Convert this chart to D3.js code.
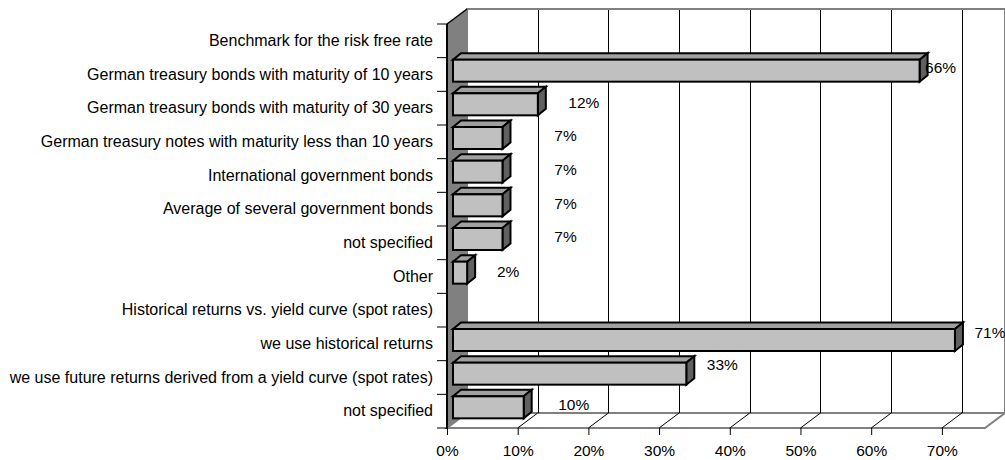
<!DOCTYPE html>
<html>
<head>
<meta charset="utf-8">
<script src="https://cdn.jsdelivr.net/npm/d3@7/dist/d3.min.js"></script>
<style>
  html, body { margin: 0; padding: 0; background: #fff; }
  svg { display: block; }
  text { font-family: "Liberation Sans", Arial, sans-serif; fill: #000; }
</style>
</head>
<body>
<svg id="chart" width="1005" height="460"></svg>
<script>
// Survey answers: benchmark for the risk free rate, and how it is derived
const categories = [
  "Benchmark for the risk free rate",
  "German treasury bonds with maturity of 10 years",
  "German treasury bonds with maturity of 30 years",
  "German treasury notes with maturity less than 10 years",
  "International government bonds",
  "Average of several government bonds",
  "not specified ",
  "Other",
  "Historical returns vs. yield curve (spot rates)",
  "we use historical returns",
  "we use future returns derived from a yield curve (spot rates)",
  "not specified"
];
// share of respondents (null = group heading, no bar)
const shares = [null, 0.66, 0.12, 0.07, 0.07, 0.07, 0.07, 0.02, null, 0.71, 0.33, 0.10];
const tickValues = [0, 0.1, 0.2, 0.3, 0.4, 0.5, 0.6, 0.7];

// layout: nudges of each value label from the end of its bar
const labelNudgeX = [0, 21, 46, 63, 63, 63, 63, 41, 0, 35, 36, 50];
const labelNudgeY = [0, -7, -6, -6, -6, -6, -6, -5, 0, -11, -13, -7];

const svg = d3.select("#chart");
const DX = 20, DY = -15;          // depth of the 3-D walls
const BX = 6;                      // bar front offset into the depth
const BDX = 8, BDY = -6.5;         // depth of each bar
const BAR_TOP = 2, BAR_H = 22;     // bar front face inside its band

const x = d3.scaleLinear().domain([0, 0.761]).range([447, 985]);
const y = d3.scaleBand().domain(categories).range([24, 428]);

const x0 = x(0), x1 = x(0.761), yTop = 24, yBot = 428;
const wallGray = "#808080";

// back wall
svg.append("rect")
  .attr("x", x0 + DX).attr("y", yTop + DY)
  .attr("width", x1 - x0).attr("height", yBot - yTop)
  .attr("fill", "#fff").attr("stroke", wallGray).attr("stroke-width", 2);

// floor
svg.append("path")
  .attr("d", `M${x0},${yBot}L${x1},${yBot}L${x1 + DX},${yBot + DY}L${x0 + DX},${yBot + DY}Z`)
  .attr("fill", "#fff").attr("stroke", wallGray).attr("stroke-width", 2);

// gridlines on the back wall and across the floor
const grid = svg.append("g").attr("stroke", "#000").attr("stroke-width", 1);
grid.selectAll("line.wall").data(tickValues.slice(1)).join("line")
  .attr("class", "wall")
  .attr("x1", d => Math.round(x(d) + DX) + 0.5).attr("x2", d => Math.round(x(d) + DX) + 0.5)
  .attr("y1", yTop + DY + 1).attr("y2", yBot + DY);
grid.selectAll("line.floor").data(tickValues.slice(1)).join("line")
  .attr("class", "floor")
  .attr("x1", d => x(d)).attr("y1", yBot)
  .attr("x2", d => x(d) + DX).attr("y2", yBot + DY);

// side wall
svg.append("path")
  .attr("d", `M${x0},${yTop}L${x0 + DX},${yTop + DY}L${x0 + DX},${yBot + DY}L${x0},${yBot}Z`)
  .attr("fill", wallGray).attr("stroke", "none");
svg.append("line")
  .attr("x1", x0).attr("y1", yTop).attr("x2", x0 + DX).attr("y2", yTop + DY)
  .attr("stroke", "#000").attr("stroke-width", 1.5);

// bars
const rows = categories.map((c, i) => ({ c, v: shares[i], i })).filter(d => d.v != null);
const bars = svg.append("g").selectAll("g").data(rows).join("g")
  .attr("stroke", "#000").attr("stroke-width", 2).attr("stroke-linejoin", "miter");
bars.each(function (d) {
  const g = d3.select(this);
  const l = x(0) + BX, r = x(d.v) + BX;
  const t = y(d.c) + BAR_TOP, b = t + BAR_H;
  g.append("path").attr("fill", "#a0a0a0")
    .attr("d", `M${l},${t}L${l + BDX},${t + BDY}L${r + BDX},${t + BDY}L${r},${t}Z`);
  g.append("path").attr("fill", "#606060")
    .attr("d", `M${r},${t}L${r + BDX},${t + BDY}L${r + BDX},${b + BDY}L${r},${b}Z`);
  g.append("rect").attr("fill", "#c0c0c0")
    .attr("x", l).attr("y", t).attr("width", r - l).attr("height", BAR_H);
});

// value labels
svg.append("g").selectAll("text").data(rows).join("text")
  .attr("x", d => x(d.v) + BX + labelNudgeX[d.i])
  .attr("y", d => y(d.c) + y.bandwidth() / 2 + labelNudgeY[d.i])
  .attr("text-anchor", "middle").attr("dominant-baseline", "central")
  .style("font-size", "15.5px")
  .text(d => d3.format(".0%")(d.v));

// value axis along the front of the floor
const xAxis = svg.append("g").attr("transform", `translate(0,${yBot})`)
  .call(d3.axisBottom(x).tickValues(tickValues).tickFormat(d3.format(".0%")).tickSize(7).tickPadding(10));
xAxis.select(".domain").remove();
xAxis.selectAll(".tick line").attr("stroke", "#000");
xAxis.selectAll(".tick text").style("font-size", "15.5px");
xAxis.attr("font-family", null).attr("font-size", null);

// category axis
const yAxis = svg.append("g").attr("transform", `translate(${x0},0)`)
  .call(d3.axisLeft(y).tickSize(0).tickPadding(14));
yAxis.select(".domain").remove();
yAxis.attr("font-family", null).attr("font-size", null);
yAxis.selectAll(".tick text").style("font-size", "16px");

const bounds = categories.map(c => y(c)).concat([yBot]);
svg.append("g").attr("stroke", "#000").attr("stroke-width", 1)
  .selectAll("line").data(bounds).join("line")
  .attr("x1", x0 - 10).attr("x2", x0)
  .attr("y1", d => d).attr("y2", d => d);
svg.append("line")
  .attr("x1", x0).attr("x2", x0).attr("y1", yTop).attr("y2", yBot + 1)
  .attr("stroke", "#000").attr("stroke-width", 2);
</script>
</body>
</html>
